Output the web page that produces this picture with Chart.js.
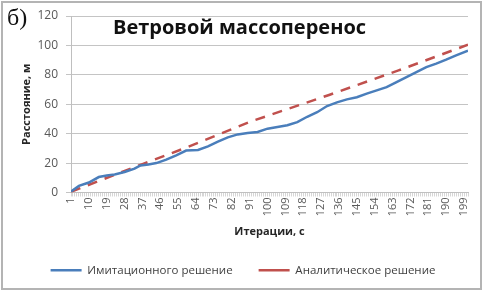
<!DOCTYPE html>
<html>
<head>
<meta charset="utf-8">
<script src="https://cdn.jsdelivr.net/npm/chart.js@4.4.0/dist/chart.umd.min.js"></script>
<style>
    html, body { margin: 0; padding: 0; background: #fff; }
    #wrap { width: 483px; height: 291px; }
</style>
</head>
<body>
<div id="wrap"><canvas id="chart" width="483" height="291"></canvas></div>
<script>
// Data
const simIterations = [1, 5, 10, 15, 19, 23, 28, 33, 36, 40, 44, 49, 54, 59, 65, 70, 75, 80, 85, 90,
    95, 100, 105, 110, 115, 120, 125, 130, 135, 140, 145, 150, 155, 160, 165, 170, 175, 180, 185, 190, 195, 201];
const simValues = [0.7, 4.5, 6.8, 10.5, 11.6, 12.3, 13.9, 16.2, 18.4, 19.1, 20, 22.3, 25.3, 28.5, 28.9, 31.4,
    34.6, 37.5, 39.5, 40.4, 41.2, 43.4, 44.5, 45.7, 47.8, 51.5, 54.6, 58.8, 61.3, 63.3, 64.8, 67.2, 69.4,
    71.6, 75, 78.4, 81.8, 85.2, 87.6, 90.3, 93.2, 96.4];

const anIterations = [1, 37, 60, 91, 131, 166, 201];
const anValues = [0.5, 19.3, 31, 48, 66.3, 83, 100.5];

const tickLabels = [1, 10, 19, 28, 37, 46, 55, 64, 73, 82, 91, 100, 109, 118, 127, 136, 145, 154, 163, 172, 181, 190, 199];

const FONT = '"Open Sans", sans-serif';
Chart.defaults.font.family = FONT;

// frame, "б)" and title inside the plot
const decor = {
    id: 'decor',
    beforeDraw(chart) {
        const ctx = chart.ctx;
        ctx.save();
        ctx.fillStyle = '#fff';
        ctx.fillRect(0, 0, chart.width, chart.height);
        ctx.restore();
    },
    afterLayout(chart) {
        // legend sits a little right of centre in the original
        chart.legend.left += 9;
        chart.legend.right += 9;
    },
    afterDraw(chart) {
        const ctx = chart.ctx;
        ctx.save();
        ctx.strokeStyle = '#b4b4b4';
        ctx.lineWidth = 2;
        ctx.strokeRect(2, 2, 479, 287);
        ctx.fillStyle = '#111';
        ctx.font = '24px "Liberation Serif", serif';
        ctx.textBaseline = 'alphabetic';
        ctx.fillText('б)', 7, 25);
        ctx.font = 'bold 20px ' + FONT;
        ctx.fillText('Ветровой массоперенос', 113, 34);
        ctx.restore();
    }
};

new Chart(document.getElementById('chart'), {
    type: 'line',
    data: {
        datasets: [{
            label: 'Имитационного решение',
            data: simIterations.map((x, i) => ({ x: x, y: simValues[i] })),
            borderColor: '#4a7ebb',
            borderWidth: 2.5,
            pointRadius: 0,
            tension: 0
        }, {
            label: 'Аналитическое решение',
            data: anIterations.map((x, i) => ({ x: x, y: anValues[i] })),
            borderColor: '#c0504d',
            borderWidth: 2.5,
            borderDash: [10, 8],
            pointRadius: 0,
            tension: 0
        }]
    },
    options: {
        responsive: false,
        animation: false,
        layout: { padding: { top: 16, right: 15, bottom: 5, left: 0 } },
        plugins: {
            legend: {
                position: 'bottom',
                labels: {
                    usePointStyle: true,
                    pointStyle: 'line',
                    pointStyleWidth: 31,
                    padding: 26,
                    color: '#404040',
                    font: { size: 11.5 }
                }
            },
            tooltip: { enabled: false }
        },
        scales: {
            x: {
                type: 'linear',
                min: 1,
                max: 201,
                afterBuildTicks: scale => {
                    const ticks = [];
                    for (let i = 1; i <= 201; i++) ticks.push({ value: i });
                    scale.ticks = ticks;
                },
                afterFit: scale => { scale.height = 46; },
                ticks: {
                    autoSkip: false,
                    minRotation: 90,
                    maxRotation: 90,
                    padding: 1,
                    color: '#595959',
                    font: { size: 11 },
                    callback: v => tickLabels.includes(v) ? String(v) : ''
                },
                grid: { drawOnChartArea: false, tickLength: 4, color: '#d6d6d6' },
                border: { color: '#c0c0c0' },
                title: {
                    display: true,
                    text: 'Итерации, с',
                    color: '#262626',
                    font: { size: 11, weight: 'bold' },
                    padding: { top: 0, bottom: 0 }
                }
            },
            y: {
                min: 0,
                max: 120,
                afterFit: scale => { scale.width = 71; },
                ticks: { stepSize: 20, padding: 8, color: '#595959', font: { size: 12 } },
                grid: { color: '#c4c4c4', tickLength: 5 },
                border: { color: '#bfbfbf' },
                title: {
                    display: true,
                    text: 'Расстояние, м',
                    color: '#262626',
                    font: { size: 11, weight: 'bold' },
                    padding: { top: 20, bottom: 0 }
                }
            }
        }
    },
    plugins: [decor]
});
</script>
</body>
</html>
